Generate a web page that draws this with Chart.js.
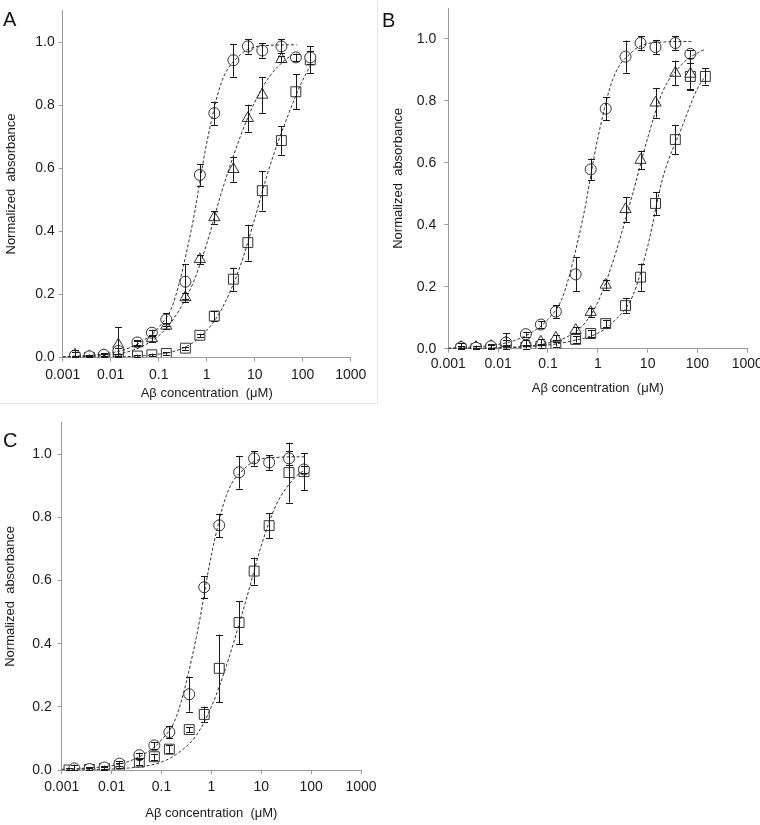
<!DOCTYPE html>
<html>
<head>
<meta charset="utf-8">
<script src="https://cdn.jsdelivr.net/npm/chart.js@4"></script>
<style>
  html, body { margin: 0; padding: 0; background: #fff; overflow: hidden; }
  body { width: 760px; height: 825px; position: relative; font-family: 'Liberation Sans', Arial, sans-serif; }
  canvas { position: absolute; }
  .lbl { position: absolute; font-size: 20px; color: #111; line-height: 1; }
  .frame { position: absolute; left: 0; top: 0; width: 377px; height: 403px; border-right: 1px solid #e6e6e6; border-bottom: 1px solid #e6e6e6; }
</style>
</head>
<body>
<div class="frame"></div>
<canvas id="chartA" width="377" height="403" style="left:0;top:0"></canvas>
<canvas id="chartB" width="380" height="400" style="left:380px;top:0"></canvas>
<canvas id="chartC" width="380" height="420" style="left:0;top:405px"></canvas>
<div class="lbl" style="left:3px;top:9px">A</div>
<div class="lbl" style="left:382px;top:10px">B</div>
<div class="lbl" style="left:3px;top:430px">C</div>
<script>
// concentrations (µM)
const conc = [0.0018, 0.0036, 0.0072, 0.0144, 0.036, 0.072, 0.144, 0.36, 0.72, 1.44, 3.6, 7.2, 14.4, 36, 72, 144];
const concC = [0.0014, 0.0036, 0.0072, 0.0144, 0.036, 0.072, 0.144, 0.36, 0.72, 1.44, 3.6, 7.2, 14.4, 36, 72];

const xTicks = [0.001, 0.01, 0.1, 1, 10, 100, 1000];
const xTickLabels = ['0.001', '0.01', '0.1', '1', '10', '100', '1000'];
const yTicks = [0, 0.2, 0.4, 0.6, 0.8, 1.0];

// circles (same reference series in all panels)
const circleVals = [0.005, 0.003, 0.008, 0.02, 0.047, 0.078, 0.12, 0.24, 0.579, 0.775, 0.943, 0.987, 0.974, 0.987, 0.952, 0.952];
const circleErr  = [0.012, 0.005, 0.006, 0.008, 0.008, 0.01, 0.02, 0.055, 0.035, 0.037, 0.052, 0.023, 0.023, 0.022, 0.012, 0.02];

// panel A
const triAVals = [0.008, 0.003, 0.006, 0.04, 0.044, 0.06, 0.1, 0.19, 0.311, 0.444, 0.597, 0.759, 0.833, 0.946];
const triAErr  = [0.015, 0.005, 0.006, 0.055, 0.008, 0.01, 0.01, 0.015, 0.015, 0.02, 0.04, 0.043, 0.057, 0.01];
const sqAVals  = [0.0, 0.0, 0.0, 0.0, 0.004, 0.008, 0.012, 0.029, 0.07, 0.131, 0.248, 0.364, 0.529, 0.688, 0.843, 0.944];
const sqAErr   = [0.004, 0.003, 0.003, 0.004, 0.004, 0.004, 0.004, 0.005, 0.005, 0.015, 0.037, 0.057, 0.063, 0.045, 0.055, 0.043];

// panel B
const triBVals = [0.005, 0.005, 0.008, 0.02, 0.02, 0.022, 0.035, 0.06, 0.118, 0.206, 0.45, 0.609, 0.794, 0.89, 0.887];
const triBErr  = [0.005, 0.005, 0.005, 0.03, 0.008, 0.008, 0.008, 0.01, 0.015, 0.015, 0.04, 0.03, 0.048, 0.04, 0.05];
const sqBVals  = [0.0, 0.0, 0.0, 0.003, 0.005, 0.008, 0.015, 0.03, 0.049, 0.081, 0.139, 0.231, 0.469, 0.675, 0.879, 0.879];
const sqBErr   = [0.003, 0.003, 0.003, 0.005, 0.005, 0.005, 0.008, 0.01, 0.012, 0.012, 0.025, 0.044, 0.037, 0.047, 0.045, 0.026];

// panel C
const sqCVals = [0.0, 0.002, 0.005, 0.015, 0.025, 0.042, 0.066, 0.128, 0.176, 0.322, 0.467, 0.63, 0.774, 0.942, 0.945];
const sqCErr  = [0.005, 0.005, 0.005, 0.008, 0.01, 0.01, 0.012, 0.008, 0.025, 0.107, 0.068, 0.043, 0.04, 0.095, 0.058];

// fitted curves
const fitCircleX = [0.001, 0.002, 0.005, 0.01, 0.02, 0.05, 0.1, 0.2, 0.5, 1, 2, 5, 10, 20, 50, 75];
const fitCircleY = [0.002, 0.004, 0.008, 0.014, 0.025, 0.055, 0.095, 0.17, 0.42, 0.68, 0.87, 0.96, 0.985, 0.99, 0.992, 0.992];
const fitTriAX = [0.001, 0.002, 0.005, 0.01, 0.02, 0.05, 0.1, 0.2, 0.5, 1, 2, 5, 10, 20, 40, 60];
const fitTriAY = [0.001, 0.002, 0.004, 0.008, 0.015, 0.038, 0.068, 0.12, 0.23, 0.36, 0.52, 0.7, 0.81, 0.89, 0.94, 0.96];
const fitSqAX = [0.001, 0.01, 0.05, 0.1, 0.2, 0.5, 1, 2, 5, 10, 20, 50, 100, 150];
const fitSqAY = [0, 0.001, 0.005, 0.01, 0.018, 0.045, 0.085, 0.15, 0.29, 0.44, 0.6, 0.77, 0.88, 0.93];
const fitTriBX = [0.001, 0.01, 0.05, 0.1, 0.2, 0.5, 1, 2, 5, 10, 20, 50, 100, 145];
const fitTriBY = [0, 0.003, 0.01, 0.018, 0.032, 0.075, 0.15, 0.28, 0.5, 0.68, 0.83, 0.92, 0.955, 0.967];
const fitSqBX = [0.001, 0.01, 0.1, 0.3, 1, 2, 5, 10, 20, 50, 100, 150];
const fitSqBY = [0, 0.002, 0.012, 0.025, 0.05, 0.085, 0.17, 0.33, 0.55, 0.72, 0.84, 0.885];
const fitSqCX = [0.001, 0.01, 0.05, 0.1, 0.2, 0.5, 1, 2, 5, 10, 20, 50, 75];
const fitSqCY = [0, 0.003, 0.013, 0.025, 0.05, 0.11, 0.2, 0.33, 0.54, 0.71, 0.84, 0.93, 0.95];

const pts = (xs, ys) => ys.map((v, i) => ({ x: xs[i], y: v }));

const markers = (xs, ys, errs, style, r) => ({
  data: pts(xs, ys),
  errors: errs,
  pointStyle: style,
  pointRadius: r,
  pointBackgroundColor: '#fff',
  pointBorderColor: '#333',
  pointBorderWidth: 1,
  showLine: false,
  order: 1
});

const fit = (xs, ys) => ({
  data: pts(xs, ys),
  showLine: true,
  borderColor: '#333',
  borderWidth: 1,
  borderDash: [3, 2],
  pointRadius: 0,
  cubicInterpolationMode: 'monotone',
  order: 0
});

// vertical error bars with caps
const errorBars = {
  id: 'errorBars',
  afterDatasetsDraw(chart) {
    const { ctx } = chart;
    const x = chart.scales.x, y = chart.scales.y;
    ctx.save();
    ctx.strokeStyle = '#1a1a1a';
    ctx.lineWidth = 1;
    chart.data.datasets.forEach(ds => {
      if (!ds.errors) return;
      ds.data.forEach((p, i) => {
        const e = ds.errors[i];
        if (!e) return;
        const px = Math.round(x.getPixelForValue(p.x)) + 0.5;
        const y1 = y.getPixelForValue(Math.max(p.y - e, 0));
        const y2 = y.getPixelForValue(p.y + e);
        ctx.beginPath();
        ctx.moveTo(px, y1); ctx.lineTo(px, y2);
        ctx.moveTo(px - 3.5, Math.round(y1) + 0.5); ctx.lineTo(px + 3.5, Math.round(y1) + 0.5);
        ctx.moveTo(px - 3.5, Math.round(y2) + 0.5); ctx.lineTo(px + 3.5, Math.round(y2) + 0.5);
        ctx.stroke();
      });
    });
    ctx.restore();
  }
};

function panel(id, box, datasets) {
  const cv = document.getElementById(id);
  return new Chart(cv, {
    type: 'scatter',
    data: { datasets },
    plugins: [errorBars],
    options: {
      responsive: false,
      animation: false,
      devicePixelRatio: 1,
      layout: { padding: { left: 0, top: box.top, right: cv.width - box.right, bottom: 0 } },
      plugins: { legend: { display: false }, tooltip: { enabled: false } },
      scales: {
        x: {
          type: 'logarithmic',
          min: 0.001,
          max: 1000,
          afterBuildTicks: s => { s.ticks = xTicks.map(v => ({ value: v, major: true })); },
          afterFit: s => { s.height = cv.height - box.bottom; s.paddingLeft = 0; s.paddingRight = 0; },
          border: { color: '#9a9a9a', width: 1 },
          grid: { drawOnChartArea: false, tickLength: 4, color: '#9a9a9a' },
          ticks: {
            autoSkip: false, maxRotation: 0, padding: box.xPad,
            color: '#1a1a1a', font: { family: 'Liberation Sans, Arial', size: 14 },
            callback: (v, i) => xTickLabels[i]
          },
          title: {
            display: true, text: 'Aβ concentration  (μM)', color: '#1a1a1a',
            font: { family: 'Liberation Sans, Arial', size: 13 },
            padding: { top: 0, bottom: box.xTitlePad }
          }
        },
        y: {
          min: 0,
          max: 1.1,
          afterBuildTicks: s => { s.ticks = yTicks.map(v => ({ value: v })); },
          afterFit: s => { s.width = box.left; s.paddingTop = 0; s.paddingBottom = 0; },
          border: { color: '#9a9a9a', width: 1 },
          grid: { drawOnChartArea: false, tickLength: 4, color: '#9a9a9a' },
          ticks: {
            padding: box.yPad, color: '#1a1a1a',
            font: { family: 'Liberation Sans, Arial', size: 14 },
            callback: v => v.toFixed(1)
          },
          title: {
            display: true, text: 'Normalized  absorbance', color: '#1a1a1a',
            font: { family: 'Liberation Sans, Arial', size: 13 },
            padding: { top: box.yTitlePad, bottom: 0 }
          }
        }
      }
    }
  });
}

panel('chartA', { left: 62.7, right: 350.7, top: 10.8, bottom: 357.3, xPad: 5, yPad: 4, xTitlePad: 2, yTitlePad: 4 }, [
  fit(fitCircleX, fitCircleY),
  fit(fitTriAX, fitTriAY),
  fit(fitSqAX, fitSqAY),
  markers(conc, circleVals, circleErr, 'circle', 5.5),
  markers(conc, triAVals, triAErr, 'triangle', 6.5),
  markers(conc, sqAVals, sqAErr, 'rect', 7)
]);

panel('chartB', { left: 68.3, right: 367.3, top: 3.3, bottom: 348.7, xPad: 3, yPad: 8, xTitlePad: 4, yTitlePad: 11 }, [
  fit(fitCircleX, fitCircleY),
  fit(fitTriBX, fitTriBY),
  fit(fitSqBX, fitSqBY),
  markers(conc.slice(0, 15), circleVals.slice(0, 15), circleErr.slice(0, 15), 'circle', 5.5),
  markers(conc.slice(0, 15), triBVals, triBErr, 'triangle', 6.5),
  markers(conc, sqBVals, sqBErr, 'rect', 7)
]);

panel('chartC', { left: 61.7, right: 361, top: 17.7, bottom: 365, xPad: 5, yPad: 6, xTitlePad: 4, yTitlePad: 3 }, [
  fit(fitCircleX, fitCircleY),
  fit(fitSqCX, fitSqCY),
  markers(conc.slice(0, 15), circleVals.slice(0, 15), circleErr.slice(0, 15), 'circle', 5.5),
  markers(concC, sqCVals, sqCErr, 'rect', 7)
]);
</script>
</body>
</html>
